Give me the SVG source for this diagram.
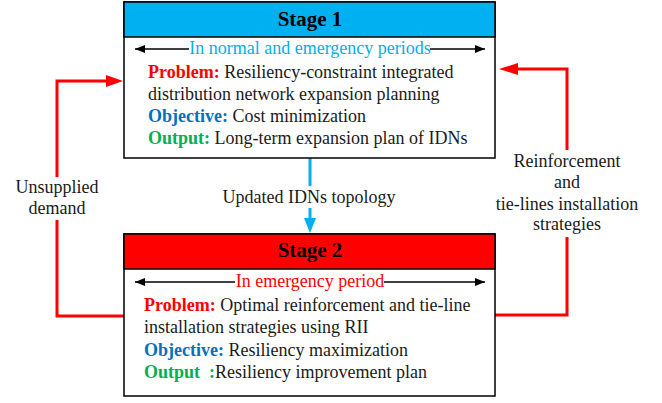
<svg xmlns="http://www.w3.org/2000/svg" width="662" height="403" viewBox="0 0 662 403">
<style>
text{font-family:"Liberation Serif","Times New Roman",serif;font-size:18px;fill:#1a1a1a}
.b{font-weight:bold}
.title{font-weight:bold;font-size:21px;fill:#000;text-anchor:middle}
.red{fill:#FF0000}
.blue{fill:#0070C0}
.green{fill:#00B050}
.lb{fill:#00B0F0}
.c{text-anchor:middle}
.box{fill:#fff;stroke:#000;stroke-width:1.5}
.hdr{stroke:#000;stroke-width:1.5}
.dbl{stroke:#000;stroke-width:1.5;fill:none}
.rl{stroke:#FF0000;stroke-width:3;fill:none}
.bl{stroke:#00B0F0;stroke-width:3;fill:none}
</style>
<defs>
<marker id="ak" markerWidth="10" markerHeight="8" refX="10" refY="4" orient="auto-start-reverse" markerUnits="userSpaceOnUse"><path d="M0,0 L10,4 L0,8 Z" fill="#000"/></marker>
</defs>
<g id="connectors">
<path class="rl" d="M124,316 H57 V220 M57,177 V81 H108"/>
<polygon points="106,75 123,81 106,87" fill="#FF0000"/>
<path class="rl" d="M495,315 H567 V237 M567,150 V69 H516"/>
<polygon points="518,63 499,69 518,75" fill="#FF0000"/>
<path class="bl" d="M310,158 V186 M310,208 V220"/>
<polygon points="304,218 316,218 310,233" fill="#00B0F0"/>
<text class="c" x="57" y="193">Unsupplied</text>
<text class="c" x="57" y="214">demand</text>
<text class="c" x="567" y="167">Reinforcement</text>
<text class="c" x="567" y="188">and</text>
<text class="c" x="567" y="210">tie-lines installation</text>
<text class="c" x="567" y="230">strategies</text>
<text class="c" x="309" y="203">Updated IDNs topology</text>
</g>
<g id="stage1">
<rect class="box" x="124" y="2" width="371" height="156"/>
<rect class="hdr" x="124" y="2" width="371" height="35" fill="#00B0F0"/>
<text class="title" x="310" y="26">Stage 1</text>
<line class="dbl" x1="135" y1="49" x2="189" y2="49" marker-start="url(#ak)"/>
<line class="dbl" x1="430" y1="49" x2="485" y2="49" marker-end="url(#ak)"/>
<text class="c lb" x="310" y="54">In normal and emergency periods</text>
<text x="148" y="78"><tspan class="b red">Problem:</tspan> Resiliency-constraint integrated</text>
<text x="148" y="100">distribution network expansion planning</text>
<text x="148" y="122"><tspan class="b blue">Objective:</tspan> Cost minimization</text>
<text x="148" y="144"><tspan class="b green">Output:</tspan> Long-term expansion plan of IDNs</text>
</g>
<g id="stage2">
<rect class="box" x="124" y="234" width="371" height="162"/>
<rect class="hdr" x="124" y="234" width="371" height="35" fill="#FF0000"/>
<text class="title" x="310" y="257">Stage 2</text>
<line class="dbl" x1="135" y1="282" x2="235" y2="282" marker-start="url(#ak)"/>
<line class="dbl" x1="384" y1="282" x2="485" y2="282" marker-end="url(#ak)"/>
<text class="c red" x="310" y="287">In emergency period</text>
<text x="144" y="311"><tspan class="b red">Problem:</tspan> Optimal reinforcement and tie-line</text>
<text x="144" y="333">installation strategies using RII</text>
<text x="144" y="356"><tspan class="b blue">Objective:</tspan> Resiliency maximization</text>
<text x="144" y="378" xml:space="preserve"><tspan class="b green">Output  :</tspan>Resiliency improvement plan</text>
</g>
</svg>
